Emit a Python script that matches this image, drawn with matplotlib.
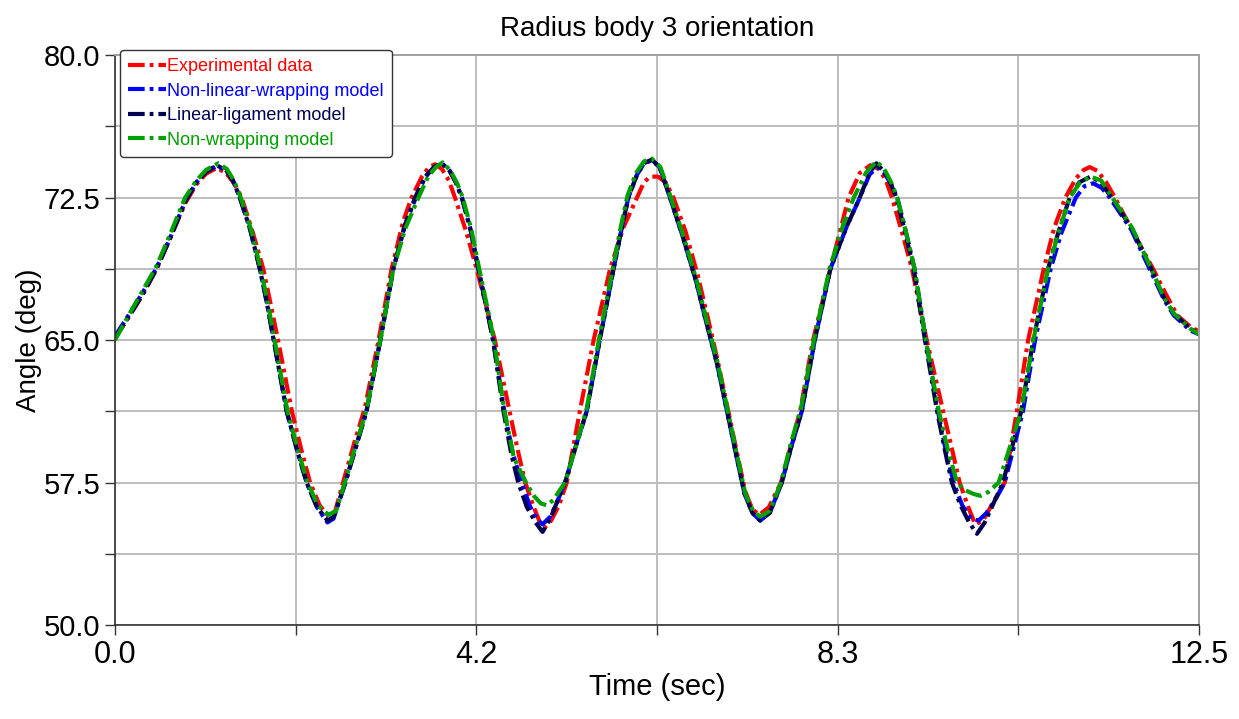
import numpy as np
import matplotlib
matplotlib.use("Agg")
import matplotlib.pyplot as plt
from matplotlib.ticker import FixedLocator, FormatStrFormatter

# Hand-read values from the reference (time in s, angle in deg)
t_exp = [0.0, 0.17, 0.32, 0.48, 0.63, 0.81, 0.94, 1.05, 1.17, 1.28, 1.38, 1.46, 1.58, 1.71, 1.79, 1.88,
         2.04, 2.15, 2.25, 2.36, 2.47, 2.54, 2.63, 2.76, 2.88, 3.04, 3.19, 3.32, 3.42, 3.54, 3.62, 3.69,
         3.77, 3.85, 3.92, 4.05, 4.17, 4.28, 4.38, 4.55, 4.64, 4.73, 4.83, 4.90, 4.95, 5.03, 5.12, 5.21,
         5.36, 5.52, 5.71, 5.86, 6.02, 6.10, 6.17, 6.26, 6.35, 6.44, 6.58, 6.72, 6.84, 6.95, 7.07, 7.18,
         7.27, 7.35, 7.43, 7.54, 7.68, 7.90, 8.05, 8.25, 8.46, 8.59, 8.71, 8.81, 8.89, 8.96, 9.08, 9.19,
         9.36, 9.55, 9.65, 9.74, 9.84, 9.92, 10.01, 10.12, 10.26, 10.40, 10.53, 10.71, 10.83, 10.96, 11.08,
         11.17, 11.24, 11.33, 11.43, 11.53, 11.75, 11.97, 12.12, 12.25, 12.40, 12.5]
v_exp = [65.1, 66.3, 67.4, 68.75, 70.3, 72.2, 73.2, 73.75, 74.05, 73.8, 73.2, 72.5, 70.8, 68.75, 67.0, 65.0,
         61.25, 59.2, 57.5, 56.3, 55.7, 56.0, 57.5, 59.6, 61.4, 65.0, 68.75, 71.2, 72.5, 73.6, 74.1, 74.25,
         74.0, 73.4, 72.5, 70.7, 68.75, 66.8, 65.0, 61.25, 59.3, 57.5, 56.2, 55.4, 55.1, 55.5, 56.3, 57.5,
         61.25, 65.0, 68.75, 70.9, 72.5, 73.3, 73.6, 73.6, 73.3, 72.5, 70.7, 68.4, 66.1, 63.9, 61.3, 58.9,
         57.0, 56.1, 55.8, 56.2, 57.5, 61.25, 65.0, 68.75, 72.5, 73.8, 74.2, 74.0, 73.4, 72.5, 70.6, 68.75,
         65.0, 61.25, 59.3, 57.5, 56.2, 55.3, 55.5, 56.4, 57.5, 61.25, 65.0, 68.75, 70.9, 72.5, 73.5,
         73.95, 74.1, 73.9, 73.3, 72.5, 70.6, 68.75, 67.4, 66.3, 65.7, 65.45]

t_nlw = [0.0, 0.17, 0.32, 0.48, 0.63, 0.81, 0.94, 1.05, 1.17, 1.28, 1.36, 1.44, 1.56, 1.67, 1.75, 1.83,
         1.98, 2.10, 2.21, 2.33, 2.45, 2.52, 2.65, 2.78, 2.90, 3.06, 3.21, 3.34, 3.47, 3.58, 3.68, 3.77,
         3.86, 3.93, 4.00, 4.10, 4.19, 4.28, 4.36, 4.49, 4.59, 4.69, 4.78, 4.86, 4.93, 5.02, 5.10, 5.19,
         5.32, 5.44, 5.59, 5.75, 5.84, 5.92, 6.02, 6.10, 6.19, 6.28, 6.40, 6.55, 6.70, 6.82, 6.94, 7.06,
         7.17, 7.26, 7.35, 7.44, 7.55, 7.69, 7.80, 7.92, 8.07, 8.25, 8.44, 8.58, 8.70, 8.79, 8.87, 8.95, 9.02,
         9.12, 9.22, 9.35, 9.49, 9.58, 9.67, 9.77, 9.87, 9.96, 10.05, 10.14, 10.26, 10.47, 10.61, 10.79,
         10.91, 11.08, 11.18, 11.28, 11.38, 11.47, 11.72, 11.93, 12.10, 12.21, 12.40, 12.5]
v_nlw = [65.2, 66.4, 67.5, 68.8, 70.3, 72.3, 73.3, 73.85, 74.15, 73.95, 73.4, 72.5, 70.8, 68.75, 67.0, 65.0,
         61.25, 59.2, 57.5, 56.2, 55.4, 55.6, 57.4, 59.4, 61.25, 65.0, 68.75, 71.0, 72.5, 73.6, 74.1, 74.3,
         73.9, 73.3, 72.5, 70.8, 68.75, 66.8, 65.0, 61.25, 59.0, 57.5, 56.3, 55.6, 55.3, 55.7, 56.5, 57.5,
         59.5, 61.25, 65.0, 68.75, 70.8, 72.5, 73.7, 74.3, 74.45, 74.1, 72.5, 70.4, 68.1, 65.9, 63.8, 61.2,
         58.8, 56.9, 55.9, 55.5, 55.9, 57.5, 59.4, 61.25, 65.0, 68.75, 71.0, 72.4, 73.7, 74.1, 73.8, 73.2, 72.5,
         70.7, 68.75, 65.0, 61.25, 59.2, 57.5, 56.3, 55.6, 55.5, 55.9, 56.5, 57.5, 61.25, 65.0, 68.75,
         70.6, 72.5, 73.1, 73.25, 73.0, 72.5, 70.8, 68.75, 67.1, 66.3, 65.5, 65.3]

t_lin = [0.0, 0.17, 0.32, 0.48, 0.63, 0.81, 0.94, 1.05, 1.17, 1.28, 1.36, 1.44, 1.56, 1.67, 1.75, 1.83,
         1.98, 2.10, 2.21, 2.33, 2.45, 2.52, 2.65, 2.78, 2.90, 3.06, 3.21, 3.34, 3.46, 3.58, 3.68, 3.77,
         3.86, 3.93, 4.00, 4.10, 4.19, 4.28, 4.36, 4.48, 4.57, 4.65, 4.75, 4.85, 4.93, 5.02, 5.10, 5.19,
         5.32, 5.44, 5.59, 5.75, 5.84, 5.92, 6.02, 6.10, 6.19, 6.28, 6.40, 6.55, 6.70, 6.82, 6.94, 7.06,
         7.17, 7.26, 7.35, 7.44, 7.55, 7.69, 7.80, 7.92, 8.07, 8.25, 8.44, 8.58, 8.70, 8.78, 8.86, 8.94, 9.01,
         9.11, 9.21, 9.34, 9.48, 9.57, 9.65, 9.75, 9.85, 9.94, 10.03, 10.12, 10.24, 10.45, 10.59, 10.76,
         10.88, 11.01, 11.12, 11.25, 11.37, 11.49, 11.72, 11.95, 12.10, 12.21, 12.40, 12.5]
v_lin = [65.1, 66.3, 67.4, 68.75, 70.3, 72.3, 73.3, 73.85, 74.2, 73.95, 73.4, 72.5, 70.8, 68.75, 67.0, 65.0,
         61.25, 59.2, 57.5, 56.2, 55.5, 55.7, 57.4, 59.4, 61.25, 65.0, 68.75, 71.0, 72.5, 73.6, 74.1, 74.3,
         73.9, 73.3, 72.5, 70.8, 68.75, 66.8, 65.0, 61.25, 59.0, 57.5, 56.2, 55.4, 54.9, 55.6, 56.5, 57.5,
         59.5, 61.25, 65.0, 68.75, 70.8, 72.5, 73.7, 74.3, 74.5, 74.1, 72.5, 70.4, 68.1, 65.9, 63.8, 61.2,
         58.8, 56.9, 55.9, 55.5, 55.9, 57.5, 59.4, 61.25, 65.0, 68.75, 71.0, 72.4, 73.8, 74.3, 73.9, 73.3, 72.5,
         70.7, 68.75, 65.0, 61.25, 59.2, 57.5, 56.3, 55.4, 54.8, 55.4, 56.3, 57.5, 61.25, 65.0, 68.75,
         70.7, 72.5, 73.3, 73.6, 73.3, 72.5, 70.9, 68.75, 67.2, 66.4, 65.6, 65.35]

t_nw = [0.0, 0.17, 0.32, 0.48, 0.63, 0.81, 0.94, 1.05, 1.19, 1.29, 1.37, 1.45, 1.57, 1.68, 1.76, 1.84,
        1.99, 2.11, 2.22, 2.34, 2.46, 2.55, 2.65, 2.78, 2.90, 3.06, 3.21, 3.35, 3.50, 3.61, 3.70, 3.78,
        3.87, 3.95, 4.01, 4.11, 4.20, 4.29, 4.37, 4.49, 4.60, 4.74, 4.83, 4.91, 4.98, 5.06, 5.13, 5.19,
        5.32, 5.44, 5.58, 5.74, 5.83, 5.91, 6.01, 6.10, 6.19, 6.29, 6.41, 6.56, 6.71, 6.83, 6.95, 7.07,
        7.18, 7.27, 7.36, 7.44, 7.55, 7.68, 7.79, 7.91, 8.06, 8.24, 8.40, 8.52, 8.66, 8.78, 8.87, 8.95, 9.02,
        9.12, 9.22, 9.35, 9.50, 9.60, 9.71, 9.80, 9.90, 9.98, 10.07, 10.19, 10.45, 10.59, 10.76,
        10.89, 11.01, 11.13, 11.25, 11.37, 11.50, 11.73, 11.95, 12.10, 12.21, 12.40, 12.5]
v_nw = [65.0, 66.4, 67.6, 68.9, 70.5, 72.5, 73.4, 73.95, 74.3, 74.0, 73.4, 72.5, 70.8, 68.75, 67.0, 65.0,
        61.25, 59.2, 57.5, 56.3, 55.8, 56.0, 57.5, 59.5, 61.3, 65.0, 68.75, 70.9, 72.5, 73.6, 74.1, 74.35,
        73.9, 73.2, 72.5, 70.8, 68.75, 66.8, 65.0, 61.25, 58.8, 57.5, 56.8, 56.4, 56.3, 56.6, 57.1, 57.5,
        59.5, 61.4, 65.0, 68.75, 70.9, 72.6, 73.8, 74.4, 74.55, 74.1, 72.5, 70.4, 68.1, 65.9, 63.8, 61.2,
        58.8, 56.9, 56.0, 55.7, 56.0, 57.5, 59.5, 61.4, 65.0, 68.75, 71.1, 72.5, 73.8, 74.4, 74.0, 73.3, 72.5,
        70.7, 68.75, 65.0, 61.25, 59.3, 57.5, 57.1, 56.9, 56.8, 57.0, 57.5, 61.25, 65.0, 68.75,
        70.8, 72.5, 73.3, 73.6, 73.4, 72.5, 70.9, 68.75, 67.2, 66.4, 65.6, 65.3]

labels = ["Experimental data", "Non-linear-wrapping model", "Linear-ligament model", "Non-wrapping model"]
colors = ["#ff0000", "#0000ff", "#000050", "#00a000"]

x_major = np.linspace(0, 12.5, 4)
x_minor = np.linspace(0, 12.5, 7)
y_major = [50.0, 57.5, 65.0, 72.5, 80.0]
y_minor = [53.75, 61.25, 68.75, 76.25]

font = ["Liberation Sans", "DejaVu Sans"]

fig = plt.figure(figsize=(12.39, 7.19), dpi=100)
ax = fig.add_axes([0.0928, 0.1307, 0.8749, 0.7928])

series = [(t_exp, v_exp), (t_nlw, v_nlw), (t_lin, v_lin), (t_nw, v_nw)]
for (t, v), lab, col in zip(series, labels, colors):
    ax.plot(t, v, color=col, lw=3.0, dashes=(4.0, 1.2, 0.9, 1.2), label=lab)

ax.set_xlim(0, 12.5)
ax.set_ylim(50, 80)
ax.xaxis.set_major_locator(FixedLocator(x_major))
ax.xaxis.set_minor_locator(FixedLocator(x_minor))
ax.yaxis.set_major_locator(FixedLocator(y_major))
ax.yaxis.set_minor_locator(FixedLocator(y_minor))
ax.xaxis.set_major_formatter(FormatStrFormatter("%.1f"))
ax.yaxis.set_major_formatter(FormatStrFormatter("%.1f"))
ax.grid(True, which="both", color="#bdbdbd", lw=1.4)
ax.set_axisbelow(True)
ax.tick_params(which="both", direction="out", length=7, width=1, colors="#333333")
ax.tick_params(axis="x", pad=4)
for lab in ax.get_xticklabels():
    lab.set_family(font)
    lab.set_fontsize(22)
    lab.set_color("black")
for lab in ax.get_yticklabels():
    lab.set_family(font)
    lab.set_fontsize(21)
    lab.set_color("black")

for side in ["left", "bottom"]:
    ax.spines[side].set_color("#333333")
    ax.spines[side].set_linewidth(1.2)
for side in ["top", "right"]:
    ax.spines[side].set_color("#a0a0a0")
    ax.spines[side].set_linewidth(1.4)

ax.set_title("Radius body 3 orientation", family=font, fontsize=20, pad=14)
ax.set_xlabel("Time (sec)", family=font, fontsize=21, labelpad=2)
ax.set_ylabel("Angle (deg)", family=font, fontsize=20, labelpad=1)

leg = ax.legend(loc="upper left", bbox_to_anchor=(0.0046, 1.009), borderaxespad=0,
                prop={"family": font, "size": 13}, handlelength=2.1, handletextpad=0.05,
                labelspacing=0.42, borderpad=0.45, fancybox=True, framealpha=1,
                edgecolor="#333333")
leg.get_frame().set_linewidth(1.0)
for txt, col in zip(leg.get_texts(), colors):
    txt.set_color(col)

fig.savefig("out.png", dpi=100)
